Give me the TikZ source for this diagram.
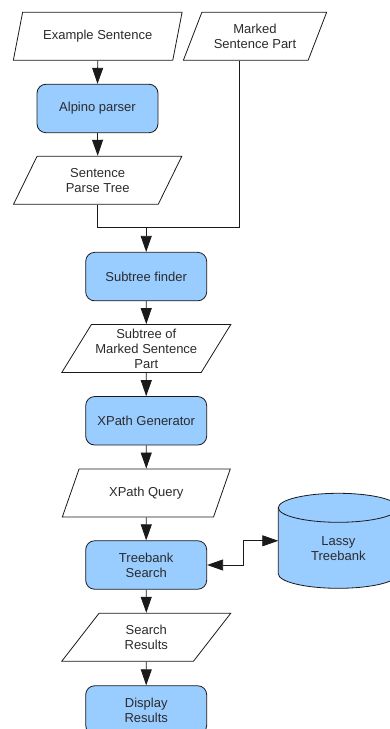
\documentclass[tikz,border=0pt]{standalone}
\usepackage{fontspec}
\setmainfont{Liberation Sans}
\usetikzlibrary{shapes.geometric,arrows.meta,calc}
\definecolor{procfill}{HTML}{99CCFF}
\definecolor{edge}{HTML}{1A1A1A}
\definecolor{ink}{HTML}{2B2B2B}
\begin{document}
\begin{tikzpicture}[x=1pt,y=1pt,
  every node/.style={font=\fontsize{13}{15}\selectfont, text=ink, align=center},
  proc/.style={rectangle, rounded corners=9pt, draw=edge, line width=0.8pt,
    fill=procfill, minimum width=121pt, minimum height=48.5pt, inner sep=2pt},
  io/.style={trapezium, trapezium stretches=true, draw=edge, line width=0.8pt,
    fill=white, minimum height=48pt, inner sep=1pt,
    trapezium left angle=#1, trapezium right angle=180-#1},
  link/.style={draw=edge, line width=0.8pt},
  arr/.style={link, -{Triangle[length=16pt,width=11pt]}},
  both/.style={link, {Triangle[length=16pt,width=11pt]}-{Triangle[length=16pt,width=11pt]}}
]
\useasboundingbox (0,0) rectangle (390,729);
\clip (0,0) rectangle (390,729);

% inputs
\node[io=64, minimum width=169pt] (ex) at (97.7,692.7) {Example Sentence};
\node[io=61, minimum width=143.5pt] (marked) at (255,692.7) {Marked\\Sentence Part};

% parsing branch
\node[proc] (alpino) at (97.5,620.5) {Alpino parser};
\node[io=64, minimum width=169pt] (spt) at (97.7,548.8) {Sentence\\Parse Tree};

% main column
\node[proc] (finder) at (146.2,452.4) {Subtree finder};
\node[io=56, minimum width=169.3pt] (subtree) at (146.3,380.5) {Subtree of\\Marked Sentence\\Part};
\node[proc] (xgen) at (146.2,308.2) {XPath Generator};
\node[io=56, minimum width=169.3pt] (xq) at (146.3,236) {XPath Query};
\node[proc] (search) at (146.2,164) {Treebank\\Search};
\node[io=56, minimum width=169.3pt] (results) at (146.3,91.8) {Search\\Results};
\node[proc] (display) at (146.2,19) {Display\\Results};

% treebank store (cylinder)
\coordinate (dbw) at (278.3,188.2);
\filldraw[fill=procfill, draw=edge, line width=0.8pt]
  (278.3,221.2) -- (278.3,155.2)
  arc[start angle=180, end angle=360, x radius=60, y radius=14.5]
  -- (398.3,221.2)
  arc[start angle=0, end angle=180, x radius=60, y radius=14.5] -- cycle;
\draw[edge, line width=0.8pt] (278.3,221.2)
  arc[start angle=180, end angle=360, x radius=60, y radius=14.5];
\node (lassy) at (338.3,180.5) {Lassy\\Treebank};

% connectors
\draw[arr] (ex.south) -- (alpino.north);
\draw[arr] (alpino.south) -- (spt.north);
\coordinate (jn) at (146.2,501.3);
\coordinate (mk) at ([xshift=-15.6pt]marked.south);
\draw[link] (spt.south) |- (jn) -| (mk);
\draw[arr] (jn) -- (finder.north);
\draw[arr] (finder.south) -- (subtree.north);
\draw[arr] (subtree.south) -- (xgen.north);
\draw[arr] (xgen.south) -- (xq.north);
\draw[arr] (xq.south) -- (search.north);
\draw[arr] (search.south) -- (results.north);
\draw[arr] (results.south) -- (display.north);
\draw[both] (search.east) -- ++(35.8,0) |- (dbw);
\end{tikzpicture}
\end{document}
